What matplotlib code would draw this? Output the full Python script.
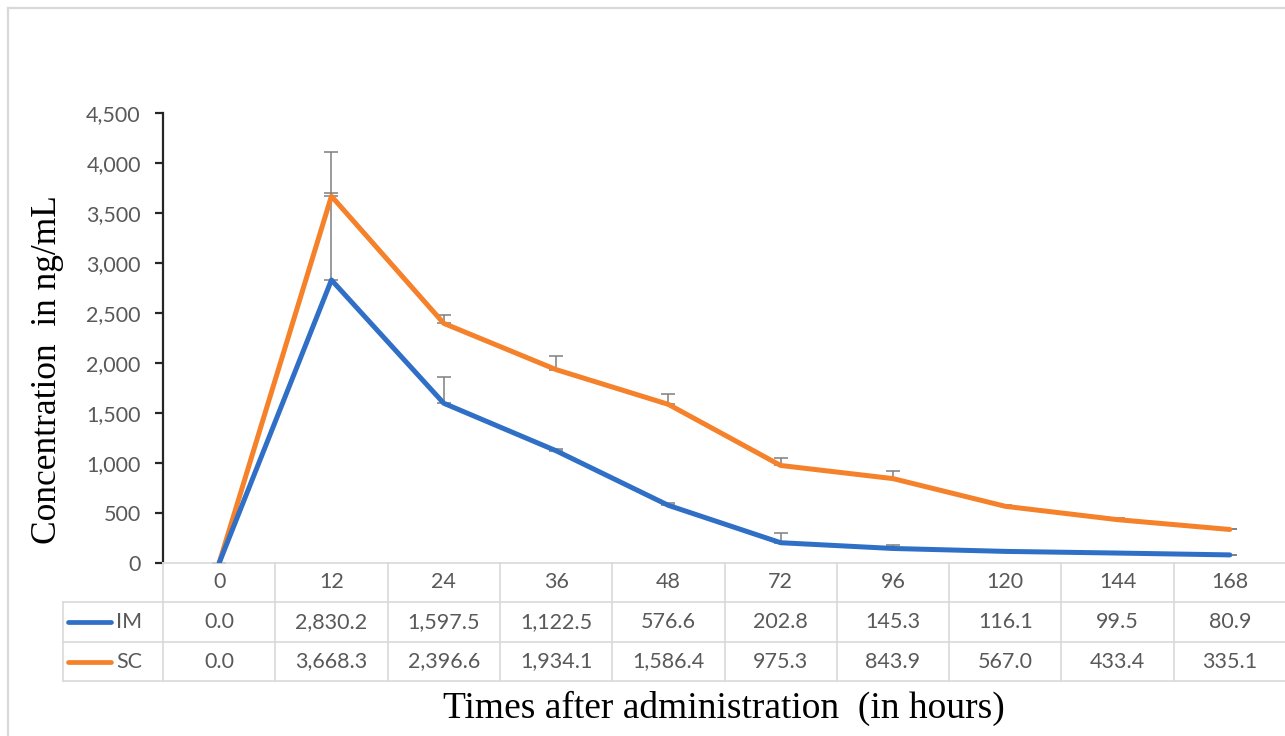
import matplotlib
matplotlib.use("Agg")
import matplotlib.pyplot as plt
from matplotlib.transforms import blended_transform_factory
from matplotlib.lines import Line2D

# ---- data ----
times = ["0", "12", "24", "36", "48", "72", "96", "120", "144", "168"]
im_values = [0.0, 2830.2, 1597.5, 1122.5, 576.6, 202.8, 145.3, 116.1, 99.5, 80.9]
sc_values = [0.0, 3668.3, 2396.6, 1934.1, 1586.4, 975.3, 843.9, 567.0, 433.4, 335.1]
im_sd = [0, 870, 263, 20, 25, 100, 35, 10, 6, 4]
sc_sd = [0, 440, 83, 136, 104, 70, 76, 15, 15, 6]
series_names = ["IM", "SC"]
yticks = [0, 500, 1000, 1500, 2000, 2500, 3000, 3500, 4000, 4500]

BLUE = "#2F6FC6"
ORANGE = "#F5812A"
GRAY_TXT = "#595959"
GRID = "#D9D9D9"
W, H = 1285, 736

tick_font = ["Lato", "DejaVu Sans"]
serif_font = ["Liberation Serif", "DejaVu Serif"]
FS = 15.5

fig = plt.figure(figsize=(W / 100, H / 100), dpi=100)
fig.patch.set_facecolor("white")

def fx(px):
    return px / W

def fy(py):
    return 1 - py / H

# frame border (top and left visible)
fig.add_artist(Line2D([fx(8), fx(W + 5)], [fy(8), fy(8)], color=GRID, lw=1.6))
fig.add_artist(Line2D([fx(8), fx(8)], [fy(8), fy(H + 5)], color=GRID, lw=1.6))

ax_left, ax_right, ax_top, ax_bottom = 163, 1286, 113, 563
ax = fig.add_axes([fx(ax_left), fy(ax_bottom), fx(ax_right - ax_left), (ax_bottom - ax_top) / H])

x = list(range(len(times)))
ax.errorbar(x, sc_values, yerr=[[0] * len(sc_sd), sc_sd], fmt="none", ecolor="#7F7F7F",
            elinewidth=1.1, capsize=4.7, capthick=1.1, zorder=2)
ax.errorbar(x, im_values, yerr=[[0] * len(im_sd), im_sd], fmt="none", ecolor="#7F7F7F",
            elinewidth=1.1, capsize=4.7, capthick=1.1, zorder=2)
ax.plot(x, sc_values, color=ORANGE, lw=3.6, solid_capstyle="round", zorder=3)
ax.plot(x, im_values, color=BLUE, lw=3.6, solid_capstyle="round", zorder=3)

ax.set_xlim(-0.5, len(times) - 0.5)
ax.set_ylim(0, 4500)
ax.set_yticks(yticks)
ax.set_yticklabels([f"{v:,}" for v in yticks], fontfamily=tick_font, fontsize=FS, color=GRAY_TXT)
ax.set_xticks([])
for s in ["top", "right"]:
    ax.spines[s].set_visible(False)
ax.spines["left"].set_color("#262626")
ax.spines["left"].set_linewidth(1.6)
ax.spines["bottom"].set_color(GRID)
ax.spines["bottom"].set_linewidth(1.2)
ax.tick_params(axis="y", length=6, width=1.6, color="#262626", pad=10)

# ---- data table ----
tr = blended_transform_factory(ax.transData, fig.transFigure)
row_y = [563, 602, 642, 681]
x_left_lbl = -0.5 - (ax_left - 63) / ((ax_right - ax_left) / len(times))
n = len(times)

def hline(py, x0, x1):
    fig.add_artist(Line2D([x0, x1], [fy(py), fy(py)], transform=tr, color=GRID, lw=1.2, clip_on=False))

def vline(xd, py0, py1):
    fig.add_artist(Line2D([xd, xd], [fy(py0), fy(py1)], transform=tr, color=GRID, lw=1.2, clip_on=False))

for py in row_y[1:]:
    hline(py, x_left_lbl, n - 0.5)
vline(x_left_lbl, row_y[1], row_y[3])
for k in range(n + 1):
    vline(k - 0.5, row_y[0], row_y[3])

for k, t in enumerate(times):
    fig.text(k, fy((row_y[0] + row_y[1]) / 2), t, transform=tr, ha="center", va="center",
             fontsize=FS, color=GRAY_TXT, family=tick_font)
    fig.text(k, fy((row_y[1] + row_y[2]) / 2), f"{im_values[k]:,.1f}", transform=tr, ha="center",
             va="center", fontsize=FS, color=GRAY_TXT, family=tick_font)
    fig.text(k, fy((row_y[2] + row_y[3]) / 2), f"{sc_values[k]:,.1f}", transform=tr, ha="center",
             va="center", fontsize=FS, color=GRAY_TXT, family=tick_font)

for name, col, r in zip(series_names, [BLUE, ORANGE], [0, 1]):
    yc = fy((row_y[1 + r] + row_y[2 + r]) / 2)
    fig.add_artist(Line2D([fx(68), fx(111)], [yc, yc], color=col, lw=3.4, solid_capstyle="round"))
    fig.text(fx(116), yc, name, ha="left", va="center", fontsize=FS, color=GRAY_TXT, family=tick_font)

# axis titles
fig.text(fx(48), fy(370), "Concentration  in ng/mL", rotation=90, ha="center", va="center",
         fontsize=25.5, family=serif_font, color="black")
fig.text(fx(724), fy(708), "Times after administration  (in hours)", ha="center", va="center",
         fontsize=27, family=serif_font, color="black")

fig.savefig("out.png", dpi=100, facecolor="white")
